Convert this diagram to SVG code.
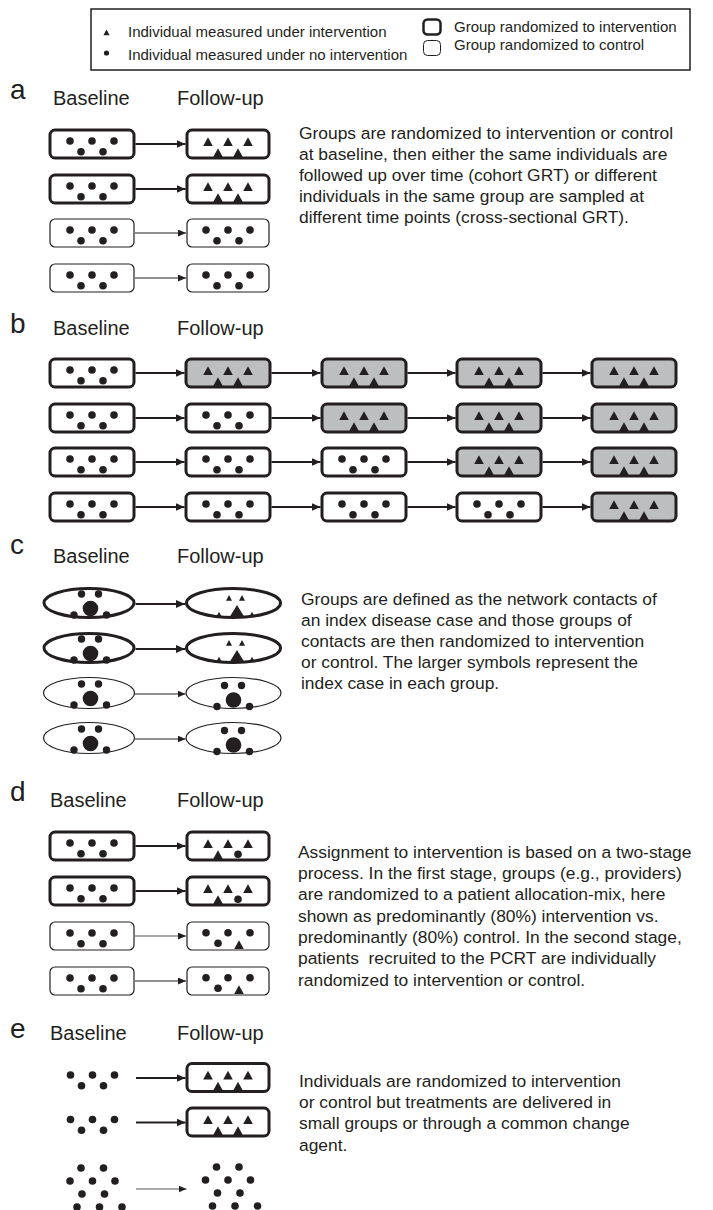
<svg xmlns="http://www.w3.org/2000/svg" xmlns:xlink="http://www.w3.org/1999/xlink" width="713" height="1210" viewBox="0 0 713 1210">
  <style>
    text { font-family: "Liberation Sans", Arial, sans-serif; fill: #231f20; }
    .lg { font-size: 15px; }
    .hd { font-size: 20px; }
    .lb { font-size: 28px; }
    .bd { font-size: 17.4px; }
    .bi { fill: #fff; stroke: #231f20; stroke-width: 3; }
    .bg { fill: #bcbec0; stroke: #231f20; stroke-width: 3; }
    .bc { fill: #fff; stroke: #231f20; stroke-width: 1.2; }
    .ink { fill: #231f20; }
    .at { fill: none; stroke: #231f20; stroke-width: 2.2; marker-end: url(#ah); }
    .an { fill: none; stroke: #231f20; stroke-width: 1; marker-end: url(#ahs); }
    .ag { fill: none; stroke: #8c8c8c; stroke-width: 1.3; marker-end: url(#ahg); }
  </style>
  <defs>
    <marker id="ah" markerUnits="userSpaceOnUse" markerWidth="9" markerHeight="8" refX="9" refY="4" orient="auto">
      <path d="M0,0 L9,4 L0,8 Z" fill="#231f20"/>
    </marker>
    <marker id="ahs" markerUnits="userSpaceOnUse" markerWidth="8" markerHeight="7" refX="8" refY="3.5" orient="auto">
      <path d="M0,0 L8,3.5 L0,7 Z" fill="#231f20"/>
    </marker>
    <marker id="ahg" markerUnits="userSpaceOnUse" markerWidth="8" markerHeight="7" refX="8" refY="3.5" orient="auto">
      <path d="M0,0 L8,3.5 L0,7 Z" fill="#231f20"/>
    </marker>
    <!-- five individuals, no intervention -->
    <g id="dots" class="ink">
      <circle cx="-22" cy="-3" r="3.8"/><circle cx="0" cy="-3" r="3.8"/><circle cx="22" cy="-3" r="3.8"/>
      <circle cx="-11" cy="7.7" r="3.8"/><circle cx="11" cy="7.7" r="3.8"/>
    </g>
    <!-- five individuals, intervention -->
    <path id="tris" class="ink" d="M-20,-6.7 L-15.2,2 L-24.8,2Z M0,-6.7 L4.8,2 L-4.8,2Z M20,-6.7 L24.8,2 L15.2,2Z M-10,4.3 L-5.2,13 L-14.8,13Z M10,4.3 L14.8,13 L5.2,13Z"/>
    <!-- mostly intervention -->
    <g id="mixI" class="ink">
      <path d="M-20,-6.7 L-15.2,2 L-24.8,2Z M0,-6.7 L4.8,2 L-4.8,2Z M20,-6.7 L24.8,2 L15.2,2Z M-10,4.3 L-5.2,13 L-14.8,13Z"/>
      <circle cx="10" cy="8.3" r="3.8"/>
    </g>
    <!-- mostly control -->
    <g id="mixC" class="ink">
      <circle cx="-22" cy="-3.3" r="3.8"/><circle cx="0" cy="-3.3" r="3.8"/><circle cx="22" cy="-3.3" r="3.8"/>
      <circle cx="-10" cy="7.3" r="3.8"/>
      <path d="M11,4.3 L15.8,13 L6.2,13Z"/>
    </g>
    <!-- network cluster: index case plus contacts -->
    <g id="ccl" class="ink">
      <circle cx="-8.5" cy="-9" r="3.7"/><circle cx="8.5" cy="-9" r="3.7"/>
      <circle cx="0.5" cy="5.5" r="7.8"/>
      <circle cx="-16" cy="12" r="3.7"/><circle cx="16.5" cy="12" r="3.7"/>
    </g>
    <path id="icl" class="ink" d="M0,2 L7.5,14.3 L-7.5,14.3Z M-8,-8 L-5,-2.3 L-11,-2.3Z M5,-8 L8,-2.3 L2,-2.3Z M-18,8.7 L-15,14.3 L-21,14.3Z M15,8.7 L18,14.3 L12,14.3Z"/>
    <!-- group outlines -->
    <rect id="boxL" x="-42" y="-14" width="84" height="28" rx="5"/>
    <rect id="boxR" x="-41" y="-14" width="82" height="28" rx="5"/>
  </defs>

  <!-- key -->
  <g id="legend">
    <rect x="91" y="9" width="599" height="61" fill="#fff" stroke="#231f20" stroke-width="1.5"/>
    <path class="ink" d="M106.5,29.5 L109.6,35.3 L103.4,35.3Z"/>
    <circle class="ink" cx="106.5" cy="53" r="2.6"/>
    <text class="lg" x="128" y="37">Individual measured under intervention</text>
    <text class="lg" x="128" y="60">Individual measured under no intervention</text>
    <rect x="423.5" y="19.5" width="17" height="15" rx="4" fill="#fff" stroke="#231f20" stroke-width="2.5"/>
    <rect x="423.5" y="40.5" width="17" height="15" rx="4" fill="#fff" stroke="#231f20" stroke-width="1"/>
    <text class="lg" x="454" y="32">Group randomized to intervention</text>
    <text class="lg" x="454" y="50">Group randomized to control</text>
  </g>

  <!-- panel a -->
  <g id="panel-a">
    <text class="lb" x="10" y="99">a</text>
    <text class="hd" x="53" y="105">Baseline</text>
    <text class="hd" x="177" y="105">Follow-up</text>
    <g id="a-b1"><use href="#boxL" class="bi" x="92" y="144"/><use href="#dots" x="92" y="144"/></g>
    <g id="a-f1"><use href="#boxR" class="bi" x="228" y="144"/><use href="#tris" x="228" y="144"/></g>
    <g id="a-b2"><use href="#boxL" class="bi" x="92" y="189"/><use href="#dots" x="92" y="189"/></g>
    <g id="a-f2"><use href="#boxR" class="bi" x="228" y="189"/><use href="#tris" x="228" y="189"/></g>
    <g id="a-b3"><use href="#boxL" class="bc" x="92" y="233"/><use href="#dots" x="92" y="233"/></g>
    <g id="a-f3"><use href="#boxR" class="bc" x="228" y="233"/><use href="#dots" x="228" y="233"/></g>
    <g id="a-b4"><use href="#boxL" class="bc" x="92" y="278"/><use href="#dots" x="92" y="278"/></g>
    <g id="a-f4"><use href="#boxR" class="bc" x="228" y="278"/><use href="#dots" x="228" y="278"/></g>
    <text class="bd">
      <tspan x="299" y="139">Groups are randomized to intervention or control</tspan>
      <tspan x="299" y="160">at baseline, then either the same individuals are</tspan>
      <tspan x="299" y="181">followed up over time (cohort GRT) or different</tspan>
      <tspan x="299" y="202">individuals in the same group are sampled at</tspan>
      <tspan x="299" y="223">different time points (cross-sectional GRT).</tspan>
    </text>
  </g>

  <!-- panel b: stepped wedge -->
  <g id="panel-b">
    <text class="lb" x="10" y="333">b</text>
    <text class="hd" x="53" y="335">Baseline</text>
    <text class="hd" x="177" y="335">Follow-up</text>
    <g id="b-r1">
      <use href="#boxL" class="bi" x="92" y="373"/><use href="#dots" x="92" y="373"/>
      <use href="#boxL" class="bg" x="228" y="373"/><use href="#tris" x="228" y="373"/>
      <use href="#boxL" class="bg" x="364" y="373"/><use href="#tris" x="364" y="373"/>
      <use href="#boxL" class="bg" x="499" y="373"/><use href="#tris" x="499" y="373"/>
      <use href="#boxL" class="bg" x="634" y="373"/><use href="#tris" x="634" y="373"/>
    </g>
    <g id="b-r2">
      <use href="#boxL" class="bi" x="92" y="418"/><use href="#dots" x="92" y="418"/>
      <use href="#boxL" class="bi" x="228" y="418"/><use href="#dots" x="228" y="418"/>
      <use href="#boxL" class="bg" x="364" y="418"/><use href="#tris" x="364" y="418"/>
      <use href="#boxL" class="bg" x="499" y="418"/><use href="#tris" x="499" y="418"/>
      <use href="#boxL" class="bg" x="634" y="418"/><use href="#tris" x="634" y="418"/>
    </g>
    <g id="b-r3">
      <use href="#boxL" class="bi" x="92" y="462"/><use href="#dots" x="92" y="462"/>
      <use href="#boxL" class="bi" x="228" y="462"/><use href="#dots" x="228" y="462"/>
      <use href="#boxL" class="bi" x="364" y="462"/><use href="#dots" x="364" y="462"/>
      <use href="#boxL" class="bg" x="499" y="462"/><use href="#tris" x="499" y="462"/>
      <use href="#boxL" class="bg" x="634" y="462"/><use href="#tris" x="634" y="462"/>
    </g>
    <g id="b-r4">
      <use href="#boxL" class="bi" x="92" y="507"/><use href="#dots" x="92" y="507"/>
      <use href="#boxL" class="bi" x="228" y="507"/><use href="#dots" x="228" y="507"/>
      <use href="#boxL" class="bi" x="364" y="507"/><use href="#dots" x="364" y="507"/>
      <use href="#boxL" class="bi" x="499" y="507"/><use href="#dots" x="499" y="507"/>
      <use href="#boxL" class="bg" x="634" y="507"/><use href="#tris" x="634" y="507"/>
    </g>
  </g>

  <!-- panel c: network groups -->
  <g id="panel-c">
    <text class="lb" x="10" y="554">c</text>
    <text class="hd" x="53" y="563">Baseline</text>
    <text class="hd" x="177" y="563">Follow-up</text>
    <g id="c-b1"><ellipse class="bi" cx="89" cy="603" rx="45" ry="14.5"/><use href="#ccl" x="90" y="603"/></g>
    <g id="c-f1"><ellipse class="bi" cx="233.5" cy="603" rx="47" ry="14.5"/><use href="#icl" x="237" y="603"/></g>
    <g id="c-b2"><ellipse class="bi" cx="89" cy="648" rx="45" ry="14.5"/><use href="#ccl" x="90" y="648"/></g>
    <g id="c-f2"><ellipse class="bi" cx="233.5" cy="648" rx="47" ry="14.5"/><use href="#icl" x="237" y="648"/></g>
    <g id="c-b3"><ellipse class="bc" cx="89" cy="693" rx="45.5" ry="15.5"/><use href="#ccl" x="90" y="693"/></g>
    <g id="c-f3"><ellipse class="bc" cx="233.5" cy="693" rx="47.5" ry="15.5"/><use href="#ccl" x="233" y="694.5"/></g>
    <g id="c-b4"><ellipse class="bc" cx="89" cy="738" rx="45.5" ry="15.5"/><use href="#ccl" x="90" y="738"/></g>
    <g id="c-f4"><ellipse class="bc" cx="233.5" cy="738" rx="47.5" ry="15.5"/><use href="#ccl" x="233" y="739.5"/></g>
    <text class="bd">
      <tspan x="301" y="605">Groups are defined as the network contacts of</tspan>
      <tspan x="301" y="626">an index disease case and those groups of</tspan>
      <tspan x="301" y="647">contacts are then randomized to intervention</tspan>
      <tspan x="301" y="668">or control. The larger symbols represent the</tspan>
      <tspan x="301" y="689">index case in each group.</tspan>
    </text>
  </g>

  <!-- panel d: pragmatic allocation mix -->
  <g id="panel-d">
    <text class="lb" x="10" y="801">d</text>
    <text class="hd" x="50" y="807">Baseline</text>
    <text class="hd" x="177" y="807">Follow-up</text>
    <g id="d-b1"><use href="#boxL" class="bi" x="92" y="846"/><use href="#dots" x="92" y="846"/></g>
    <g id="d-f1"><use href="#boxR" class="bi" x="228" y="846"/><use href="#mixI" x="228" y="846"/></g>
    <g id="d-b2"><use href="#boxL" class="bi" x="92" y="891"/><use href="#dots" x="92" y="891"/></g>
    <g id="d-f2"><use href="#boxR" class="bi" x="228" y="891"/><use href="#mixI" x="228" y="891"/></g>
    <g id="d-b3"><use href="#boxL" class="bc" x="92" y="936"/><use href="#dots" x="92" y="936"/></g>
    <g id="d-f3"><use href="#boxR" class="bc" x="228" y="936"/><use href="#mixC" x="228" y="936"/></g>
    <g id="d-b4"><use href="#boxL" class="bc" x="92" y="981"/><use href="#dots" x="92" y="981"/></g>
    <g id="d-f4"><use href="#boxR" class="bc" x="228" y="981"/><use href="#mixC" x="228" y="981"/></g>
    <text class="bd" style="white-space:pre">
      <tspan x="298" y="858">Assignment to intervention is based on a two-stage</tspan>
      <tspan x="298" y="879">process. In the first stage, groups (e.g., providers)</tspan>
      <tspan x="298" y="900">are randomized to a patient allocation-mix, here</tspan>
      <tspan x="298" y="922">shown as predominantly (80%) intervention vs.</tspan>
      <tspan x="298" y="943">predominantly (80%) control. In the second stage,</tspan>
      <tspan x="298" y="964">patients  recruited to the PCRT are individually</tspan>
      <tspan x="298" y="986">randomized to intervention or control.</tspan>
    </text>
  </g>

  <!-- panel e: individually randomized group treatment -->
  <g id="panel-e">
    <text class="lb" x="10" y="1038">e</text>
    <text class="hd" x="50" y="1040">Baseline</text>
    <text class="hd" x="177" y="1040">Follow-up</text>
    <g id="e-b1"><use href="#dots" x="92.5" y="1078"/></g>
    <g id="e-f1"><use href="#boxR" class="bi" x="228" y="1077.5"/><use href="#tris" x="228" y="1077.5"/></g>
    <g id="e-b2"><use href="#dots" x="92.5" y="1122.5"/></g>
    <g id="e-f2"><use href="#boxR" class="bi" x="228" y="1122"/><use href="#tris" x="228" y="1122"/></g>
    <g id="e-b3" class="ink">
      <circle cx="81" cy="1168" r="3.8"/><circle cx="103.5" cy="1168" r="3.8"/>
      <circle cx="70" cy="1181" r="3.8"/><circle cx="92.5" cy="1181" r="3.8"/><circle cx="115" cy="1181" r="3.8"/>
      <circle cx="82" cy="1194" r="3.8"/><circle cx="104.5" cy="1194" r="3.8"/>
      <circle cx="77" cy="1207" r="3.8"/><circle cx="99.5" cy="1207" r="3.8"/><circle cx="122" cy="1207" r="3.8"/>
    </g>
    <g id="e-f3" class="ink">
      <circle cx="216.5" cy="1167" r="3.8"/><circle cx="239" cy="1167" r="3.8"/>
      <circle cx="205.5" cy="1180" r="3.8"/><circle cx="228" cy="1180" r="3.8"/><circle cx="250.5" cy="1180" r="3.8"/>
      <circle cx="217.5" cy="1193" r="3.8"/><circle cx="240" cy="1193" r="3.8"/>
      <circle cx="212.5" cy="1206" r="3.8"/><circle cx="235" cy="1206" r="3.8"/><circle cx="257.5" cy="1206" r="3.8"/>
    </g>
    <text class="bd">
      <tspan x="299" y="1087">Individuals are randomized to intervention</tspan>
      <tspan x="299" y="1108">or control but treatments are delivered in</tspan>
      <tspan x="299" y="1129">small groups or through a common change</tspan>
      <tspan x="299" y="1151">agent.</tspan>
    </text>
  </g>

  <!-- arrows -->
  <g id="connectors">
    <line class="at" x1="135.5" y1="144" x2="185.5" y2="144"/>
    <line class="at" x1="135.5" y1="189" x2="185.5" y2="189"/>
    <line class="an" x1="135" y1="233" x2="186" y2="233"/>
    <line class="an" x1="135" y1="278" x2="186" y2="278"/>

    <line class="at" x1="135.5" y1="373" x2="184.5" y2="373"/>
    <line class="at" x1="271.5" y1="373" x2="320.5" y2="373"/>
    <line class="at" x1="407.5" y1="373" x2="455.5" y2="373"/>
    <line class="at" x1="542.5" y1="373" x2="590.5" y2="373"/>
    <line class="at" x1="135.5" y1="418" x2="184.5" y2="418"/>
    <line class="at" x1="271.5" y1="418" x2="320.5" y2="418"/>
    <line class="at" x1="407.5" y1="418" x2="455.5" y2="418"/>
    <line class="at" x1="542.5" y1="418" x2="590.5" y2="418"/>
    <line class="at" x1="135.5" y1="462" x2="184.5" y2="462"/>
    <line class="at" x1="271.5" y1="462" x2="320.5" y2="462"/>
    <line class="at" x1="407.5" y1="462" x2="455.5" y2="462"/>
    <line class="at" x1="542.5" y1="462" x2="590.5" y2="462"/>
    <line class="at" x1="135.5" y1="507" x2="184.5" y2="507"/>
    <line class="at" x1="271.5" y1="507" x2="320.5" y2="507"/>
    <line class="at" x1="407.5" y1="507" x2="455.5" y2="507"/>
    <line class="at" x1="542.5" y1="507" x2="590.5" y2="507"/>

    <line class="at" x1="135.5" y1="604" x2="185" y2="604"/>
    <line class="at" x1="135.5" y1="649" x2="185" y2="649"/>
    <line class="an" x1="135" y1="694" x2="185.5" y2="694"/>
    <line class="an" x1="135" y1="739" x2="185.5" y2="739"/>

    <line class="at" x1="135.5" y1="846" x2="185.5" y2="846"/>
    <line class="at" x1="135.5" y1="891" x2="185.5" y2="891"/>
    <line class="ag" x1="135" y1="936" x2="186" y2="936"/>
    <line class="an" x1="135" y1="981" x2="186" y2="981"/>

    <line class="at" x1="136" y1="1078" x2="185.5" y2="1078"/>
    <line class="at" x1="136" y1="1122.5" x2="185.5" y2="1122.5"/>
    <line class="ag" x1="136" y1="1189" x2="186.5" y2="1189"/>
  </g>
</svg>
